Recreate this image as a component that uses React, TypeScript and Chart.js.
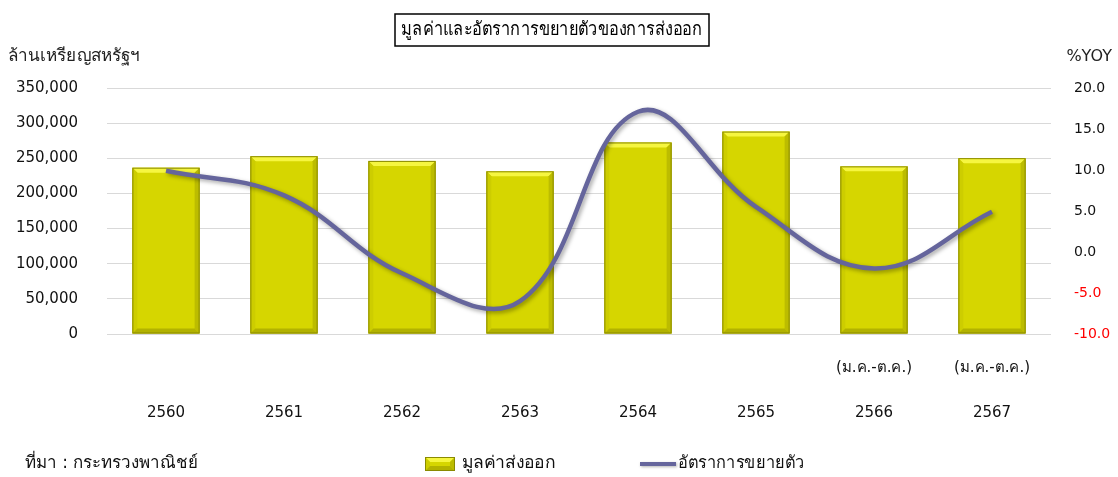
import React, { useEffect, useRef } from "react";
import { Chart, registerables } from "chart.js";

Chart.register(...registerables);

const years = ["2560", "2561", "2562", "2563", "2564", "2565", "2566", "2567"];
const periodNotes = ["", "", "", "", "", "", "(ม.ค.-ต.ค.)", "(ม.ค.-ต.ค.)"];
const exportValues = [236635, 252957, 246269, 231468, 272500, 288000, 238500, 250200];
const growthRates = [9.9, 6.9, -2.6, -6.0, 17.1, 5.5, -2.0, 4.9];
const leftTicks = [0, 50000, 100000, 150000, 200000, 250000, 300000, 350000];
const rightTicks = [-10, -5, 0, 5, 10, 15, 20];

const titleText = "มูลค่าและอัตราการขยายตัวของการส่งออก";
const leftAxisTitle = "ล้านเหรียญสหรัฐฯ";
const rightAxisTitle = "%YOY";
const sourceText = "ที่มา : กระทรวงพาณิชย์";
const barLabel = "มูลค่าส่งออก";
const lineLabel = "อัตราการขยายตัว";

const FONT = "Tahoma, 'DejaVu Sans', 'Noto Sans', sans-serif";
const BAR_FILL = "#d6d600";
const BAR_BORDER = "#8a8a00";
const LINE_COLOR = "#65659c";

function drawBevelBar(ctx: CanvasRenderingContext2D, left: number, top: number, w: number, h: number) {
  const b = Math.min(5, h / 2);
  ctx.save();
  ctx.fillStyle = BAR_FILL;
  ctx.fillRect(left, top, w, h);
  ctx.fillStyle = "#f6f640";
  ctx.beginPath();
  ctx.moveTo(left, top);
  ctx.lineTo(left + w, top);
  ctx.lineTo(left + w - b, top + b);
  ctx.lineTo(left + b, top + b);
  ctx.closePath();
  ctx.fill();
  ctx.fillStyle = "#cdcd00";
  ctx.beginPath();
  ctx.moveTo(left, top);
  ctx.lineTo(left + b, top + b);
  ctx.lineTo(left + b, top + h - b);
  ctx.lineTo(left, top + h);
  ctx.closePath();
  ctx.fill();
  ctx.fillStyle = "#bcbc00";
  ctx.beginPath();
  ctx.moveTo(left + w, top);
  ctx.lineTo(left + w - b, top + b);
  ctx.lineTo(left + w - b, top + h - b);
  ctx.lineTo(left + w, top + h);
  ctx.closePath();
  ctx.fill();
  ctx.fillStyle = "#b2b200";
  ctx.beginPath();
  ctx.moveTo(left, top + h);
  ctx.lineTo(left + b, top + h - b);
  ctx.lineTo(left + w - b, top + h - b);
  ctx.lineTo(left + w, top + h);
  ctx.closePath();
  ctx.fill();
  ctx.strokeStyle = BAR_BORDER;
  ctx.lineWidth = 1;
  ctx.strokeRect(left + 0.5, top + 0.5, w - 1, h - 1);
  ctx.restore();
}

function fitText(ctx: CanvasRenderingContext2D, text: string, x: number, y: number, width: number) {
  const mw = ctx.measureText(text).width;
  const s = width / mw;
  ctx.save();
  ctx.translate(x, y);
  ctx.scale(s, 1);
  ctx.textAlign = "left";
  ctx.fillText(text, 0, 0);
  ctx.restore();
}

const decorPlugin = {
  id: "decor",
  beforeDatasetDraw(chart: any, args: any) {
    const ctx = chart.ctx as CanvasRenderingContext2D;
    if (args.meta.type === "line") {
      ctx.save();
      ctx.shadowColor = "rgba(0,0,0,0.35)";
      ctx.shadowBlur = 4;
      ctx.shadowOffsetX = 2;
      ctx.shadowOffsetY = 2;
    } else if (args.meta.type === "bar") {
      args.meta.data.forEach((el: any) => {
        const w = el.width;
        const left = el.x - w / 2;
        const top = Math.min(el.y, el.base);
        const h = Math.abs(el.base - el.y);
        drawBevelBar(ctx, left, top, w, h);
      });
      return false;
    }
  },
  afterDatasetDraw(chart: any, args: any) {
    if (args.meta.type === "line") {
      chart.ctx.restore();
    }
  },
  afterDraw(chart: any) {
    const ctx = chart.ctx as CanvasRenderingContext2D;
    const W = chart.width;
    ctx.save();
    ctx.textBaseline = "middle";
    // title box
    ctx.strokeStyle = "#000";
    ctx.lineWidth = 1.5;
    ctx.strokeRect(395, 14, 314, 32);
    ctx.fillStyle = "#000";
    ctx.font = `19px ${FONT}`;
    fitText(ctx, titleText, 401, 30, 301);

    // axis titles
    ctx.font = `17px ${FONT}`;
    ctx.fillStyle = "#222";
    fitText(ctx, leftAxisTitle, 8, 57, 132);
    ctx.font = `16px ${FONT}`;
    ctx.textAlign = "right";
    ctx.fillText(rightAxisTitle, W - 6, 57);

    // source
    const ly = 464;
    ctx.font = `17px ${FONT}`;
    ctx.fillStyle = "#111";
    fitText(ctx, sourceText, 25, ly, 173);

    // legend
    drawBevelBar(ctx, 425, ly - 7, 30, 14);
    fitText(ctx, barLabel, 462, ly, 93);
    ctx.save();
    ctx.strokeStyle = LINE_COLOR;
    ctx.lineWidth = 4;
    ctx.shadowColor = "rgba(0,0,0,0.3)";
    ctx.shadowBlur = 3;
    ctx.shadowOffsetX = 1;
    ctx.shadowOffsetY = 1;
    ctx.beginPath();
    ctx.moveTo(640, ly);
    ctx.lineTo(676, ly);
    ctx.stroke();
    ctx.restore();
    fitText(ctx, lineLabel, 678, ly, 127);
    ctx.restore();
  },
};

export default function App() {
  const canvasRef = useRef<HTMLCanvasElement | null>(null);

  useEffect(() => {
    if (!canvasRef.current) return;
    const labels = years.map((y, i) => [periodNotes[i], y]);
    const chart = new Chart(canvasRef.current, {
      type: "bar",
      data: {
        labels,
        datasets: [
          {
            type: "line",
            label: lineLabel,
            data: growthRates,
            yAxisID: "y1",
            borderColor: LINE_COLOR,
            borderWidth: 4.5,
            pointRadius: 0,
            tension: 0.4,
            fill: false,
            order: 0,
          } as any,
          {
            type: "bar",
            label: barLabel,
            data: exportValues,
            yAxisID: "y",
            backgroundColor: BAR_FILL,
            borderColor: BAR_BORDER,
            borderWidth: 1,
            barPercentage: 0.57,
            categoryPercentage: 1,
            order: 1,
          },
        ],
      },
      options: {
        animation: false,
        responsive: true,
        maintainAspectRatio: false,
        layout: { padding: { top: 88, bottom: 43, left: 0, right: 0 } },
        plugins: {
          legend: { display: false },
          tooltip: { enabled: false },
          title: { display: false },
        },
        scales: {
          x: {
            grid: { display: false },
            border: { display: false },
            ticks: {
              font: { family: FONT, size: 15, lineHeight: 3 },
              color: "#111",
              padding: 4,
              maxRotation: 0,
              autoSkip: false,
            },
            afterFit(scale: any) {
              scale.height = 100;
            },
          },
          y: {
            position: "left",
            min: 0,
            max: 350000,
            afterBuildTicks(scale: any) {
              scale.ticks = leftTicks.map((v) => ({ value: v }));
            },
            grid: { color: "#d9d9d9", lineWidth: 1, drawTicks: false },
            border: { display: false },
            ticks: {
              font: { family: FONT, size: 15 },
              color: "#111",
              padding: 29,
              callback: (v: any) => Number(v).toLocaleString("en-US"),
            },
            afterFit(scale: any) {
              scale.width = 107;
            },
          },
          y1: {
            position: "right",
            min: -10,
            max: 20,
            afterBuildTicks(scale: any) {
              scale.ticks = rightTicks.map((v) => ({ value: v }));
            },
            grid: { display: false, drawTicks: false },
            border: { display: false },
            ticks: {
              font: { family: FONT, size: 14 },
              color: (c: any) => (c.tick && c.tick.value < 0 ? "#ff0000" : "#111"),
              padding: 23,
              callback: (v: any) => Number(v).toFixed(1),
            },
            afterFit(scale: any) {
              scale.width = 67;
            },
          },
        },
      },
      plugins: [decorPlugin],
    });
    return () => chart.destroy();
  }, []);

  return (
    <div style={{ position: "fixed", left: 0, top: 0, width: 1118, height: 477, background: "#fff" }}>
      <canvas ref={canvasRef} />
    </div>
  );
}
